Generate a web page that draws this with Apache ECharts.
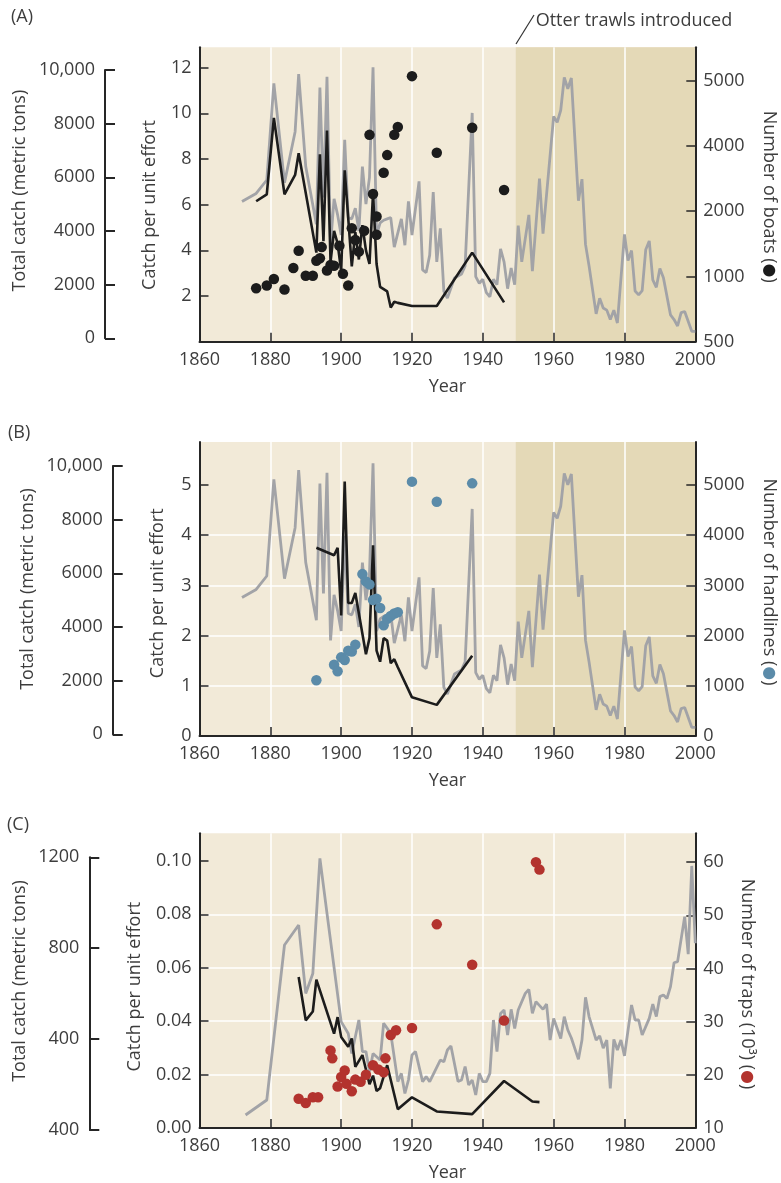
<!DOCTYPE html>
<html><head><meta charset="utf-8">
<script src="https://cdn.jsdelivr.net/npm/echarts@6/dist/echarts.min.js"></script>
<style>html,body{margin:0;padding:0;background:#fff}#c{width:781px;height:1183px}</style>
</head><body><div id="c"></div>
<script>
// ---------------- DATA ----------------
// Cod total catch (metric tons) — shown in panels A and B
const codCatchYears = [1872,1876,1879,1881,1884,1887,1888,1890,1893,1894,1895,1896,1897,1898,1899,1900,1901,1902,1903,1904,1905,1906,1907,1908,1909,1910,1911,1912,1913,1914,1915,1917,1918,1919,1920,1922,1923,1924,1925,1926,1927,1928,1929,1930,1932,1934,1935,1937,1938,1939,1940,1941,1942,1943,1944,1945,1946,1947,1948,1949,1950,1951,1953,1954,1956,1957,1960,1961,1962,1963,1964,1965,1967,1968,1969,1970,1972,1973,1974,1975,1976,1977,1978,1980,1981,1982,1983,1984,1985,1986,1987,1988,1989,1990,1991,1993,1994,1995,1996,1997,1999,2000];
const codCatchTons  = [5100,5400,5900,9500,5800,7700,9850,6400,4250,9350,5250,9750,3500,5200,4600,3850,7400,4500,4450,4850,4000,6400,5000,6000,10100,3850,4300,4400,4450,4500,3400,4450,3470,5100,3850,5850,2550,2450,3100,5450,2850,4100,1750,1500,2250,2400,2700,8400,2300,2050,2200,1700,1550,2200,2000,3330,2850,1850,2620,2000,4200,2850,4600,2500,5950,3900,8270,8050,8500,9720,9300,9700,5130,5930,3500,2700,910,1490,1130,1050,700,1050,570,3870,2900,3270,1760,1620,1780,3300,3630,2180,1900,2600,2260,870,700,460,960,1000,260,260];

// Panel A: catch per unit effort (boats) and number of boats
const cpueBoatYears = [1876,1879,1881,1884,1887,1888,1893,1894,1895,1896,1897,1898,1899,1900,1901,1903,1904,1905,1906,1907,1908,1909,1910,1911,1912,1913,1914,1915,1916,1920,1927,1937,1946];
const cpueBoatValues = [6.15,6.45,9.8,6.45,7.3,8.25,3.9,8.2,4.4,9.25,3.5,4.85,4.3,3.1,7.5,3.3,4.8,3.6,5.1,4.0,3.4,6.5,3.4,2.4,2.3,2.2,1.5,1.75,1.7,1.56,1.56,3.9,1.72];
const boatYears = [1876,1879,1881,1884,1886.5,1888,1890,1892,1893,1894,1894.5,1896,1897,1898,1899.5,1900.5,1902,1903,1904,1905,1906.5,1908,1909,1910,1910,1912,1913,1915,1916,1920,1927,1937,1946];
const boatCounts = [910,930,980,900,1130,1395,1010,1010,1240,1280,1450,1090,1175,1165,1470,1040,930,1740,1560,1380,1700,4170,2530,1920,1640,3180,3720,4170,4290,5070,3790,4280,2650];
const boatTickLabels = [500,1000,2000,4000,5000];

// Panel B: catch per unit effort (handlines) and number of handlines
const cpueLineYears = [1893,1898,1899,1900,1901,1902,1903,1904,1907,1908,1909,1910,1911,1912,1913,1914,1915,1916,1920,1927,1937];
const cpueLineValues = [3.75,3.6,3.75,2.4,5.07,2.65,2.65,2.85,1.63,1.95,3.8,1.7,1.48,1.95,1.9,1.45,1.53,1.37,0.77,0.62,1.6];
const handlineYears = [1893,1898,1899,1900,1901,1902,1903,1904,1906,1907,1908,1909,1910,1911,1912,1913,1914,1915,1916,1920,1927,1937];
const handlineCounts = [1110,1420,1290,1567,1513,1700,1685,1820,3225,3080,3020,2710,2733,2550,2205,2333,2390,2440,2465,5067,4667,5033];

// Panel C: total catch, catch per unit effort (traps), number of traps (10^3)
const trapCatchYears = [1873,1879,1884,1888,1890,1892,1894,1896,1900,1902,1903,1905,1906,1907,1908,1909,1911,1912,1914,1916,1917,1918,1919,1920,1921,1923,1924,1925,1928,1929,1930,1931,1933,1934,1935,1936,1937,1938,1939,1940,1941,1942,1943,1944,1945,1946,1947,1948,1949,1950,1952,1953,1954,1955,1957,1958,1959,1960,1962,1963,1964,1965,1967,1968,1969,1970,1972,1973,1974,1975,1976,1977,1978,1979,1980,1982,1983,1984,1985,1987,1988,1989,1990,1991,1992,1993,1994,1995,1997,1998,1999,2000];
const trapCatchTons = [66,132,814,902,601,689,1195,953,477,425,337,484,345,345,257,337,308,470,425,213,249,161,220,330,345,213,235,213,308,300,352,370,213,220,279,198,220,154,249,213,213,249,484,345,513,528,418,531,447,528,601,619,513,565,531,554,396,491,403,499,440,405,311,396,584,499,396,414,360,396,183,399,352,396,326,550,484,484,418,491,554,499,587,594,579,631,736,741,939,774,1162,822];
const cpueTrapYears = [1888,1890,1892,1893,1898,1899,1900,1902,1903,1904,1906,1908,1909,1910,1911,1913,1916,1920,1927,1937,1946,1954,1956];
const cpueTrapValues = [0.0565,0.0403,0.0436,0.0555,0.0353,0.0415,0.0341,0.0304,0.0335,0.0229,0.0273,0.0164,0.0196,0.0139,0.0149,0.0235,0.007,0.0115,0.0062,0.0052,0.0176,0.0099,0.0097];
const trapYears = [1888,1890,1892,1893.5,1897,1897.5,1899,1900,1901,1901.5,1903,1904,1905.5,1907,1909,1910.5,1912,1912.5,1914,1915.5,1920,1927,1937,1946,1955,1956];
const trapThousands = [15.5,14.7,15.8,15.8,24.6,23.1,17.8,19.6,20.8,18.3,16.9,19.1,18.7,20,21.8,21,20.5,23.1,27.5,28.4,28.8,48.3,40.7,30.2,60,58.6];

// Tick labels
const yearTicks = [1860,1880,1900,1920,1940,1960,1980,2000];
const cpueTicksA = [2,4,6,8,10,12];
const cpueTicksB = [0,1,2,3,4,5];
const handlineTicks = [0,1000,2000,3000,4000,5000];
const cpueTicksC = [0,0.02,0.04,0.06,0.08,0.10];
const trapTicks = [10,20,30,40,50,60];
const catchTicksAB = [0,2000,4000,6000,8000,10000];
const catchLabelsAB = ['0','2000','4000','6000','8000','10,000'];
const catchTicksC = [0,400,800,1200];
const catchLabelsC = ['400','400','800','1200'];
const trawlYear = 1949.3;

// ---------------- HELPERS ----------------
const zip = (xs, ys) => xs.map((x, i) => [x, ys[i]]);
function boatsToIdx(v) {
  for (let i = 0; i < boatTickLabels.length - 1; i++) {
    if (v <= boatTickLabels[i + 1]) return i + (v - boatTickLabels[i]) / (boatTickLabels[i + 1] - boatTickLabels[i]);
  }
  const n = boatTickLabels.length;
  return (n - 1) + (v - boatTickLabels[n - 1]) / (boatTickLabels[n - 1] - boatTickLabels[n - 2]);
}

const FONT = '"Open Sans", "DejaVu Sans", sans-serif';
const TXT = '#3d3d3d';
const AX = '#262626';
const GRAY = '#a2a3a7';
const BLACK = '#1c1c1c';
const BG = '#f2ead8';
const BAND = '#e4d9b7';
const lab = { color: TXT, fontSize: 18, fontFamily: FONT };

function xMain(g) {
  return { type: 'value', gridIndex: g, min: 1860, max: 2000, z: 2,
    axisLine: { show: true, onZero: false, lineStyle: { color: AX, width: 2 } },
    axisTick: { show: true, inside: true, length: 9, customValues: yearTicks, lineStyle: { color: AX, width: 1.5 } },
    axisLabel: Object.assign({ margin: 9, customValues: yearTicks, formatter: v => String(v) }, lab),
    splitLine: { show: true, showMinLine: false, showMaxLine: false, lineStyle: { color: '#ffffff', width: 1.5 } },
    name: 'Year', nameLocation: 'middle', nameGap: 36, nameTextStyle: lab };
}
function xHidden(g) { return { type: 'value', gridIndex: g, min: 1860, max: 2000, show: false }; }
function yInner(g, pos, min, max, ticks, fmt, split) {
  return { type: 'value', gridIndex: g, position: pos, min, max, z: 2,
    axisLine: { show: true, onZero: false, lineStyle: { color: AX, width: 2 } },
    axisTick: { show: true, inside: true, length: 9, customValues: ticks, lineStyle: { color: AX, width: 1.5 } },
    axisLabel: Object.assign({ margin: 8, customValues: ticks, formatter: fmt }, lab),
    splitLine: { show: split, showMinLine: false, showMaxLine: false, lineStyle: { color: '#ffffff', width: 1.5 } } };
}
function yCatch(g, offset, max, ticks, labels) {
  return { type: 'value', gridIndex: g, position: 'left', offset, min: 0, max, z: 2,
    axisLine: { show: true, onZero: false, lineStyle: { color: AX, width: 2 } },
    axisTick: { show: true, inside: true, length: 10, customValues: ticks, lineStyle: { color: AX, width: 2 } },
    axisLabel: Object.assign({ margin: 10, customValues: ticks, formatter: v => labels[ticks.indexOf(v)] }, lab),
    splitLine: { show: false } };
}
function band(xi, yi) {
  return { type: 'custom', xAxisIndex: xi, yAxisIndex: yi, z: 1, silent: true,
    data: [[trawlYear, 2000, 0]], encode: { x: [0, 1], y: 2 },
    renderItem: (params, api) => {
      const cs = params.coordSys;
      const x0 = api.coord([api.value(0), 0])[0];
      const x1 = api.coord([api.value(1), 0])[0];
      return { type: 'rect', shape: { x: x0, y: cs.y, width: x1 - x0, height: cs.height }, style: { fill: BAND } };
    } };
}
function line(xi, yi, data, color, z, w) {
  return { type: 'line', xAxisIndex: xi, yAxisIndex: yi, data, symbol: 'none', clip: false, z, silent: true,
    lineStyle: { color, width: w } };
}
function dots(xi, yi, data, color) {
  return { type: 'scatter', xAxisIndex: xi, yAxisIndex: yi, data, symbolSize: 10.5, z: 5, silent: true,
    itemStyle: { color, opacity: 1 } };
}

const L = 199.5, R = 781 - 695.3;
const grids = [
  { left: L, right: R, top: 47.3, height: 294.4, show: true, backgroundColor: BG, borderWidth: 0 },
  { left: L, right: R, top: 70, height: 268.3 },
  { left: L, right: R, top: 442, height: 294, show: true, backgroundColor: BG, borderWidth: 0 },
  { left: L, right: R, top: 466, height: 268.3 },
  { left: L, right: R, top: 833.3, height: 296.2, show: true, backgroundColor: BG, borderWidth: 0 },
  { left: L, right: R, top: 857.3, height: 272.7 }
];

const BLUE = '#5b8ba9', RED = '#b3332e';
function title(text, x, y, rot, dotColor) {
  const base = { fill: TXT, fontSize: 18, fontFamily: FONT };
  const style = dotColor
    ? { text: '{a|' + text + ' (}{d|●}{a|)}', rich: { a: base, d: { fill: dotColor, fontSize: 16, fontFamily: '"DejaVu Sans"' } } }
    : Object.assign({ text }, base);
  return { type: 'text', x, y, rotation: rot, silent: true,
    style: Object.assign(style, { align: 'center', verticalAlign: 'middle', fill: TXT, fontSize: 18, fontFamily: FONT }) };
}
const UP = Math.PI / 2, DOWN = -Math.PI / 2;
const graphics = [
  { type: 'text', x: 11, y: 17, style: { text: '(A)', fill: TXT, fontSize: 18, fontFamily: FONT, verticalAlign: 'middle' } },
  { type: 'text', x: 8, y: 433, style: { text: '(B)', fill: TXT, fontSize: 18, fontFamily: FONT, verticalAlign: 'middle' } },
  { type: 'text', x: 7, y: 825, style: { text: '(C)', fill: TXT, fontSize: 18, fontFamily: FONT, verticalAlign: 'middle' } },
  title('Total catch (metric tons)', 20, 190.6, UP),
  title('Catch per unit effort', 150, 205, UP),
  title('Number of boats', 769, 196.7, DOWN, BLACK),
  title('Total catch (metric tons)', 28, 589, UP),
  title('Catch per unit effort', 158, 593.3, UP),
  title('Number of handlines', 769.3, 582, DOWN, BLUE),
  title('Total catch (metric tons)', 20, 981, UP),
  title('Catch per unit effort', 135, 986.7, UP),
  title('Number of traps (10³)', 746.7, 984, DOWN, RED),
  { type: 'line', silent: true, shape: { x1: 516, y1: 44, x2: 534, y2: 15 }, style: { stroke: '#333', lineWidth: 1.2 } },
  { type: 'text', x: 535.7, y: 20.7, style: { text: 'Otter trawls introduced', fill: TXT, fontSize: 18, fontFamily: FONT, verticalAlign: 'middle' } }
];

const option = {
  animation: false,
  backgroundColor: '#ffffff',
  grid: grids,
  xAxis: [xMain(0), xHidden(1), xMain(2), xHidden(3), xMain(4), xHidden(5)],
  yAxis: [
    yInner(0, 'left', 0, 12.89, cpueTicksA, v => String(v), false),
    yInner(0, 'right', 0, 4.512, [0,1,2,3,4], v => String(boatTickLabels[Math.round(v)]), false),
    yCatch(1, 94.5, 10000, catchTicksAB, catchLabelsAB),
    yInner(2, 'left', 0, 5.857, cpueTicksB, v => String(v), true),
    yInner(2, 'right', 0, 5857, handlineTicks, v => String(v), false),
    yCatch(3, 86.8, 10000, catchTicksAB, catchLabelsAB),
    yInner(4, 'left', 0, 0.1103, cpueTicksC, v => v.toFixed(2), true),
    yInner(4, 'right', 10, 65.43, trapTicks, v => String(v), false),
    yCatch(5, 110.2, 1200, catchTicksC, catchLabelsC)
  ],
  series: [
    band(0, 0),
    band(2, 3),
    line(1, 2, zip(codCatchYears, codCatchTons), GRAY, 3, 2.8),
    line(0, 0, zip(cpueBoatYears, cpueBoatValues), BLACK, 4, 2.6),
    dots(0, 1, zip(boatYears, boatCounts.map(boatsToIdx)), BLACK),
    line(3, 5, zip(codCatchYears, codCatchTons), GRAY, 3, 2.8),
    line(2, 3, zip(cpueLineYears, cpueLineValues), BLACK, 4, 2.6),
    dots(2, 4, zip(handlineYears, handlineCounts), BLUE),
    line(5, 8, zip(trapCatchYears, trapCatchTons), GRAY, 3, 2.8),
    line(4, 6, zip(cpueTrapYears, cpueTrapValues), BLACK, 4, 2.6),
    dots(4, 7, zip(trapYears, trapThousands), RED)
  ],
  graphic: graphics
};
const chart = echarts.init(document.getElementById('c'), null, { renderer: 'canvas', width: 781, height: 1183 });
chart.setOption(option);
</script></body></html>
